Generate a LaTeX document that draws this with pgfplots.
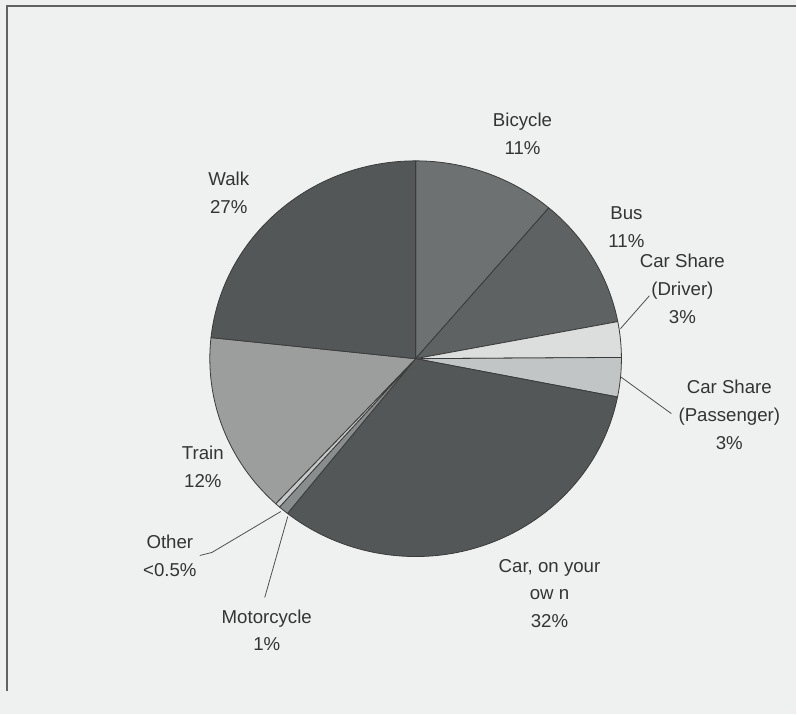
\documentclass[border=0pt]{standalone}
\usepackage{pgfplots}
\pgfplotsset{compat=1.18}
\usepackage{pgfplotstable}
\usepackage{fontspec}
\setmainfont{Liberation Sans}
\definecolor{bgc}{HTML}{EFF1F1}
\definecolor{cBic}{HTML}{6E7171}
\definecolor{cBus}{HTML}{5E6262}
\definecolor{cDrv}{HTML}{DCDEDE}
\definecolor{cPas}{HTML}{C2C5C5}
\definecolor{cCar}{HTML}{535757}
\definecolor{cMot}{HTML}{8A8D8D}
\definecolor{cOth}{HTML}{C8CACA}
\definecolor{cTra}{HTML}{9C9E9E}
\definecolor{cWal}{HTML}{545757}
\definecolor{edge}{HTML}{3A3C3C}
\definecolor{txt}{HTML}{333535}
\pgfplotstableread{
label value
Bicycle 11.2
Bus 10.8
Driver 2.9
Passenger 3.2
Car 32.6
Motorcycle 0.8
Other 0.4
Train 14.8
Walk 23.3
}\piedata
\begin{document}
\begin{tikzpicture}
\begin{axis}[
  x=0.75pt, y=0.75pt, y dir=reverse,
  xmin=0, xmax=797, ymin=0, ymax=715,
  hide axis, clip=false, scale only axis,
]
\pgfplotsextra{
  \fill[bgc] (axis cs:0,0) rectangle (axis cs:797,715);
  \draw[edge!80, line width=1.1pt] (axis cs:797,6) -- (axis cs:7,6) -- (axis cs:7,692);
  \gdef\cum{90}
  \foreach \i/\col in {0/cBic,1/cBus,2/cDrv,3/cPas,4/cCar,5/cMot,6/cOth,7/cTra,8/cWal}{
    \pgfplotstablegetelem{\i}{value}\of\piedata
    \pgfmathsetmacro\sa{\cum}
    \pgfmathsetmacro\ea{\cum-3.6*\pgfplotsretval}
    \pgfmathsetmacro\sx{416+206*cos(\sa)}
    \pgfmathsetmacro\sy{359-198*sin(\sa)}
    \filldraw[fill=\col, draw=edge, line width=0.6pt, line join=round]
      (axis cs:416,359) -- (axis cs:\sx,\sy)
      arc[start angle=\sa, end angle=\ea, x radius=154.5pt, y radius=148.5pt] -- cycle;
    \xdef\cum{\ea}
  }
  % leader lines
  \draw[edge!90, line width=0.6pt] (axis cs:621,329) -- (axis cs:650,296);
  \draw[edge!90, line width=0.6pt] (axis cs:621,377) -- (axis cs:672,414);
  \draw[edge!90, line width=0.6pt] (axis cs:281,512) -- (axis cs:212,553) -- (axis cs:200,556);
  \draw[edge!90, line width=0.6pt] (axis cs:288,517) -- (axis cs:265,598);
  % labels
  \begin{scope}[every node/.style={text=txt, align=center, font=\fontsize{14}{20.8}\selectfont, inner sep=0pt}]
  \node at (axis cs:523,134) {Bicycle\\11\%};
  \node at (axis cs:627,227) {Bus\\11\%};
  \node at (axis cs:683,289) {Car Share\\(Driver)\\3\%};
  \node at (axis cs:730,415) {Car Share\\(Passenger)\\3\%};
  \node at (axis cs:550,594) {Car, on your\\ow n\\32\%};
  \node at (axis cs:267,631) {Motorcycle\\1\%};
  \node at (axis cs:170,556) {Other\\<0.5\%};
  \node at (axis cs:203,467) {Train\\12\%};
  \node at (axis cs:229,193) {Walk\\27\%};
  \end{scope}
}
\end{axis}
\end{tikzpicture}
\end{document}
